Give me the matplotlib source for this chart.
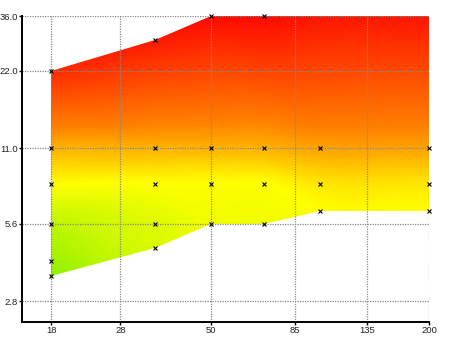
import numpy as np
import matplotlib
matplotlib.use("Agg")
import matplotlib.pyplot as plt
import matplotlib.tri as mtri
from matplotlib.colors import LinearSegmentedColormap
from matplotlib.ticker import FixedLocator, FixedFormatter, NullLocator

# Aperture range covered at each focal length
focal_lengths = [18, 35, 50, 70, 100, 200]
min_aperture = [3.5, 4.5, 5.6, 5.6, 6.3, 6.3]
max_aperture = [22, 29, 36, 36, 40, 40]

# Measured samples: focal length, aperture and rating (0 = poor, 1 = best)
point_focal = [18, 18, 18, 18, 18, 18,
               35, 35, 35, 35, 35,
               50, 50, 50, 50,
               70, 70, 70, 70,
               100, 100, 100, 100,
               200, 200, 200, 200]
point_aperture = [22, 11, 8, 5.6, 4.0, 3.5,
                  29, 11, 8, 5.6, 4.5,
                  36, 11, 8, 5.6,
                  36, 11, 8, 5.6,
                  40, 11, 8, 6.3,
                  40, 11, 8, 6.3]
point_rating = [0.10, 0.45, 0.60, 0.80, 0.90, 0.95,
                0.05, 0.45, 0.60, 0.70, 0.72,
                0.00, 0.45, 0.60, 0.65,
                0.00, 0.45, 0.60, 0.65,
                0.00, 0.42, 0.55, 0.60,
                0.00, 0.42, 0.55, 0.60]

x_ticks = [18, 28, 50, 85, 135, 200]
x_tick_labels = ["18", "28", "50", "85", "135", "200"]
y_ticks = [2.8, 5.6, 11.0, 22.0, 36.0]
y_tick_labels = ["2.8", "5.6", "11.0", "22.0", "36.0"]

x_limits = (14.96, 200)
y_limits = (2.32, 36)

cmap = LinearSegmentedColormap.from_list(
    "rating",
    [(0.0, (1.0, 0.04, 0.0)),
     (0.35, (1.0, 0.50, 0.0)),
     (0.60, (1.0, 1.0, 0.0)),
     (1.0, (0.50, 0.93, 0.0))])

plt.rcParams['font.family'] = ['Liberation Sans', 'DejaVu Sans']

fig = plt.figure(figsize=(4.5, 3.37), dpi=100)
ax = fig.add_axes([22 / 450, 15 / 337, (429 - 22) / 450, (322 - 16) / 337])
ax.set_xscale("log")
ax.set_yscale("log")
ax.set_xlim(*x_limits)
ax.set_ylim(*y_limits)

# Interpolate the rating over the focal/aperture plane (in log space)
px, py = np.log(point_focal), np.log(point_aperture)
sx, sy = 157.0, 111.6
delaunay = mtri.Triangulation(px * sx, py * sy)
interp = mtri.CubicTriInterpolator(delaunay, np.array(point_rating), kind="geom")

gx = np.linspace(np.log(min(focal_lengths)), np.log(max(focal_lengths)), 380)
gy = np.linspace(np.log(min(min_aperture)), np.log(max(max_aperture)), 300)
GX, GY = np.meshgrid(gx, gy)
Z = interp(GX * sx, GY * sy)
Z = np.clip(Z, 0, 1)

# Region outline, used to clip the colour field
region = ax.fill_between(focal_lengths, min_aperture, max_aperture,
                         facecolor="none", edgecolor="none")
mesh = ax.pcolormesh(np.exp(GX), np.exp(GY), Z, cmap=cmap, vmin=0, vmax=1,
                     shading="nearest", rasterized=True, zorder=1)
mesh.set_clip_path(region.get_paths()[0], region.get_transform())

# Sample markers
pf = np.array(point_focal, dtype=float)
pa = np.array(point_aperture, dtype=float)
visible = pa <= y_limits[1]
ax.plot(pf[visible], pa[visible], linestyle="none", marker="x", markersize=2.4,
        markeredgewidth=0.8, color="black", zorder=4, clip_on=False)

# Axes styling
ax.xaxis.set_major_locator(FixedLocator(x_ticks))
ax.xaxis.set_major_formatter(FixedFormatter(x_tick_labels))
ax.xaxis.set_minor_locator(NullLocator())
ax.yaxis.set_major_locator(FixedLocator(y_ticks))
ax.yaxis.set_major_formatter(FixedFormatter(y_tick_labels))
ax.yaxis.set_minor_locator(NullLocator())

ax.grid(True, color="#888888", linestyle=(0, (1, 1)), linewidth=0.9, zorder=3)
ax.set_axisbelow(False)
for side in ("top", "right"):
    ax.spines[side].set_visible(False)
for side in ("left", "bottom"):
    ax.spines[side].set_linewidth(1.4)
    ax.spines[side].set_color("black")
    ax.spines[side].set_zorder(5)

ax.tick_params(axis="both", which="major", length=2, width=1, pad=1,
               labelsize=6.8, colors="black", labelcolor="#222222")

fig.savefig("out.png", dpi=100)
